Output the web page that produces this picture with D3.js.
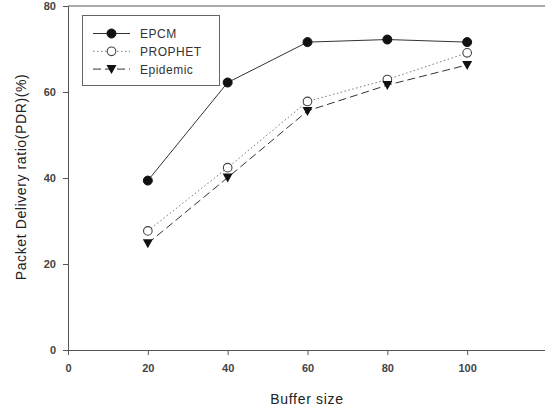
<!DOCTYPE html>
<html>
<head>
<meta charset="utf-8">
<script src="https://cdn.jsdelivr.net/npm/d3@7"></script>
<style>
  body { margin: 0; background: #fff; }
  text { font-family: "Liberation Sans", Arial, sans-serif; }
</style>
</head>
<body>
<svg id="chart" width="545" height="412"></svg>
<script>
// data
const bufferSizes = [20, 40, 60, 80, 100];
const epcm = [39.4, 62.2, 71.6, 72.2, 71.6];
const prophet = [27.7, 42.4, 57.8, 62.9, 69.1];
const epidemic = [24.8, 40.1, 55.6, 61.6, 66.3];
const xTicks = [0, 20, 40, 60, 80, 100];
const yTicks = [0, 20, 40, 60, 80];

const series = [
  { name: "EPCM", values: epcm, dash: null, marker: "filled" },
  { name: "PROPHET", values: prophet, dash: "1.5,2.5", marker: "open" },
  { name: "Epidemic", values: epidemic, dash: "8,4", marker: "triangle" }
];

const svg = d3.select("#chart");
const margin = { left: 68, top: 6 };
const plotW = 479, plotH = 344;

const x = d3.scaleLinear().domain([0, 120]).range([margin.left, margin.left + plotW]);
const y = d3.scaleLinear().domain([0, 80]).range([margin.top + plotH, margin.top]);

const axisColor = "#555";

// frame (top line)
svg.append("line")
  .attr("x1", x(0)).attr("x2", x(120))
  .attr("y1", y(80)).attr("y2", y(80))
  .attr("stroke", axisColor).attr("stroke-width", 1);

let xAxis = d3.axisBottom(x).tickValues(xTicks).tickSize(5).tickSizeOuter(0);
let gx = svg.append("g")
  .attr("transform", `translate(0, ${y(0)})`)
  .call(xAxis);
gx.selectAll("text")
  .attr("dy", "1.25em")
  .style("font-size", "11px").style("font-weight", "bold").attr("fill", "#444");

let yAxis = d3.axisLeft(y).tickValues(yTicks).tickSize(5).tickSizeOuter(0);
let gy = svg.append("g")
  .attr("transform", `translate(${x(0)}, 0)`)
  .call(yAxis);
gy.selectAll("text")
  .attr("x", -12)
  .style("font-size", "11px").style("font-weight", "bold").attr("fill", "#444");

svg.selectAll(".domain, .tick line").attr("stroke", axisColor);

// axis titles
svg.append("text")
  .attr("x", 307).attr("y", 404)
  .attr("text-anchor", "middle")
  .style("font-size", "14px").style("letter-spacing", "0.7px").attr("fill", "#222")
  .text("Buffer size");

svg.append("text")
  .attr("transform", "translate(26, 177) rotate(-90)")
  .attr("text-anchor", "middle")
  .style("font-size", "14px").style("letter-spacing", "0.6px").attr("fill", "#222")
  .text("Packet Delivery ratio(PDR)(%)");

// lines
const line = d3.line()
  .x((d, i) => x(bufferSizes[i]))
  .y(d => y(d));

function drawMarker(g, type, cx, cy) {
  if (type === "filled") {
    g.append("circle").attr("cx", cx).attr("cy", cy).attr("r", 4.5)
      .attr("fill", "#111").attr("stroke", "#111");
  } else if (type === "open") {
    g.append("circle").attr("cx", cx).attr("cy", cy).attr("r", 4.3)
      .attr("fill", "#fff").attr("stroke", "#444").attr("stroke-width", 1.1);
  } else {
    g.append("path")
      .attr("d", `M${cx - 5},${cy - 4} L${cx + 5},${cy - 4} L${cx},${cy + 5} Z`)
      .attr("fill", "#111");
  }
}

series.forEach(s => {
  svg.append("path")
    .datum(s.values)
    .attr("d", line)
    .attr("fill", "none")
    .attr("stroke", s.marker === "open" ? "#777" : "#333")
    .attr("stroke-width", 1)
    .attr("stroke-dasharray", s.dash);
  let g = svg.append("g");
  s.values.forEach((v, i) => drawMarker(g, s.marker, x(bufferSizes[i]), y(v)));
});

// legend
let legend = svg.append("g");
legend.append("rect")
  .attr("x", 82.5).attr("y", 15.5).attr("width", 137).attr("height", 70)
  .attr("fill", "#fff").attr("stroke", "#666").attr("stroke-width", 1);

series.forEach((s, i) => {
  let ly = 33.5 + i * 17.8;
  legend.append("line")
    .attr("x1", 93).attr("x2", 130).attr("y1", ly).attr("y2", ly)
    .attr("stroke", s.marker === "open" ? "#777" : "#333")
    .attr("stroke-dasharray", s.dash);
  drawMarker(legend, s.marker, 111.5, ly);
  legend.append("text")
    .attr("x", 140).attr("y", ly + 4.5)
    .style("font-size", "12px").style("letter-spacing", "0.5px").attr("fill", "#333")
    .text(s.name);
});
</script>
</body>
</html>
